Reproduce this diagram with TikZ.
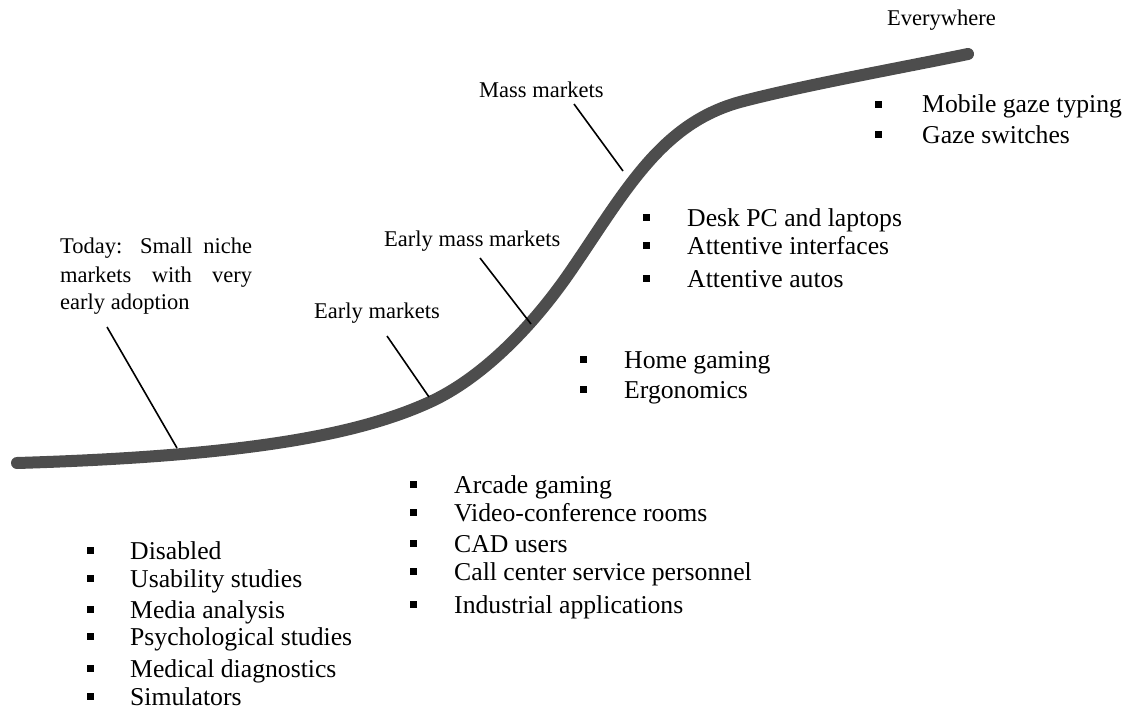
\documentclass[tikz,border=0pt]{standalone}
\usepackage{fontspec}
\setmainfont{Liberation Serif}
\definecolor{curvegray}{HTML}{4D4D4D}
\tikzset{
  lab/.style={font=\fontsize{22.5}{27}\selectfont, inner sep=0pt, anchor=base west},
  itm/.style={font=\fontsize{25.7}{30}\selectfont, inner sep=0pt, anchor=base west},
  bul/.style={fill=black, draw=none, rectangle, minimum size=7pt, inner sep=0pt},
  leader/.style={draw=black, line width=1.6pt},
  scurve/.style={draw=curvegray, line width=12pt, line cap=round, line join=round}
}
\begin{document}
\begin{tikzpicture}[x=1pt, y=-1pt]
\useasboundingbox (0,0) rectangle (1125,709);

% adoption curve
\coordinate (c0) at (17,463);
\coordinate (c1) at (430,402);
\coordinate (c2) at (570,272);
\coordinate (c3) at (740,102);
\coordinate (c4) at (968,54);
\draw[scurve] (c0) .. controls (250,456) and (360,434) .. (c1)
  .. controls (480,379) and (530,330) .. (c2)
  .. controls (625,192) and (660,124) .. (c3)
  .. controls (800,86) and (900,68) .. (c4);

% labels
\node[lab] (every) at (887,26) {Everywhere};
\node[lab] (mass) at (479,98) {Mass markets};
\node[lab] (emass) at (384,246) {Early mass markets};
\node[lab] (early) at (314,318) {Early markets};
\node[lab] (today1) at (60,253) {\makebox[192pt][s]{Today: Small niche}};
\node[lab] (today2) at (60,282) {\makebox[192pt][s]{markets with very}};
\node[lab] (today3) at (60,309) {early adoption};

% leader lines
\coordinate (tA) at (107,327); \coordinate (tB) at (177,448);
\coordinate (eA) at (387,336); \coordinate (eB) at (429,397);
\coordinate (emA) at (480,258); \coordinate (emB) at (531,324);
\coordinate (mA) at (574,104); \coordinate (mB) at (623,171);
\draw[leader] (tA) -- (tB);
\draw[leader] (eA) -- (eB);
\draw[leader] (emA) -- (emB);
\draw[leader] (mA) -- (mB);

% Everywhere list
\foreach \t/\y [count=\i] in {Mobile gaze typing/113, Gaze switches/143} {
  \node[bul] (ewb\i) at (878,\y-8.5) {};
  \node[itm] (ew\i) at (922,\y) {\t};
}
% Mass markets list
\foreach \t/\y [count=\i] in {Desk PC and laptops/226, Attentive interfaces/254, Attentive autos/287} {
  \node[bul] (mmb\i) at (646,\y-8.5) {};
  \node[itm] (mm\i) at (687,\y) {\t};
}
% Early mass markets list
\foreach \t/\y [count=\i] in {Home gaming/368, Ergonomics/398} {
  \node[bul] (emb\i) at (583,\y-8.5) {};
  \node[itm] (em\i) at (624,\y) {\t};
}
% Early markets list
\foreach \t/\y [count=\i] in {Arcade gaming/493, Video-conference rooms/521, CAD users/552, Call center service personnel/580, Industrial applications/613} {
  \node[bul] (eab\i) at (413,\y-8.5) {};
  \node[itm] (ea\i) at (454,\y) {\t};
}
% Today list
\foreach \t/\y [count=\i] in {Disabled/559, Usability studies/587, Media analysis/618, Psychological studies/645, Medical diagnostics/677, Simulators/705} {
  \node[bul] (tdb\i) at (90,\y-8.5) {};
  \node[itm] (td\i) at (130,\y) {\t};
}
\end{tikzpicture}
\end{document}
